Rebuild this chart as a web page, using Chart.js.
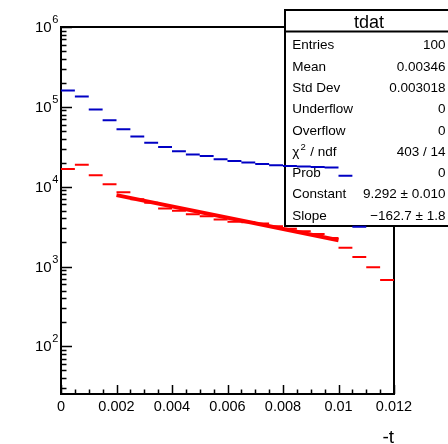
<!DOCTYPE html>
<html>
<head>
<meta charset="utf-8">
<script src="https://cdn.jsdelivr.net/npm/chart.js@4.4.1/dist/chart.umd.min.js"></script>
<style>
    html, body { margin: 0; padding: 0; background: #fff; }
</style>
</head>
<body>
<canvas id="tplot" width="448" height="444"></canvas>
<script>
/* =========================
   DATOS
========================= */
const binEdges = [0, 0.0005, 0.001, 0.0015, 0.002, 0.0025, 0.003, 0.0035, 0.004, 0.0045,
                  0.005, 0.0055, 0.006, 0.0065, 0.007, 0.0075, 0.008, 0.0085, 0.009, 0.0095,
                  0.01, 0.0105, 0.011, 0.0115, 0.012];
const redCounts = [16600, 18800, 13900, 10700, 8500, 6980, 6300, 5330, 4980, 4530,
                   4270, 3890, 3630, 3580, 3460, 3200, 2980, 2770, 2560, 2280,
                   1715, 1320, 982, 676];
const blueCounts = [160000, 134500, 92500, 67900, 52500, 42500, 35500, 31500, 27800, 25300,
                    24300, 22100, 21000, 20100, 19300, 18600, 18200, 17900, 17700, 17400,
                    13700, 3140, null, null];
const fitConstant = 9.292;
const fitSlope = -162.7;
const fitRange = [0.002, 0.010];
const xTicks = [0, 0.002, 0.004, 0.006, 0.008, 0.01, 0.012];
const xTickLabels = ["0", "0.002", "0.004", "0.006", "0.008", "0.01", "0.012"];
const yDecades = [2, 3, 4, 5, 6];
const statsTitle = "tdat";
const statsRows = [
    ["Entries", "100"],
    ["Mean", "0.00346"],
    ["Std Dev", "0.003018"],
    ["Underflow", "0"],
    ["Overflow", "0"],
    ["chi2", "403 / 14"],
    ["Prob", "0"],
    ["Constant", "9.292 \u00b1 0.010"],
    ["Slope", "\u2212162.7 \u00b1 1.8"]
];

const FONT = '"Liberation Sans", Arial, Helvetica, sans-serif';
const Y_MIN = 25.3, Y_MAX = 1e6;

// cada bin como un segmento horizontal suelto
function binDashes(counts) {
    const pts = [];
    counts.forEach((v, i) => {
        if (v == null) return;
        pts.push({ x: binEdges[i], y: v });
        pts.push({ x: binEdges[i + 1], y: v });
        pts.push({ x: binEdges[i + 1], y: null });
    });
    return pts;
}

const fitPoints = fitRange.map(x => ({ x: x, y: Math.exp(fitConstant + fitSlope * x) }));

/* =========================
   MARCO ESTILO ROOT
========================= */
const rootFrame = {
    id: "rootFrame",
    beforeDatasetsDraw(chart) {
        const { ctx, chartArea: a, scales } = chart;
        const xs = scales.x, ys = scales.y;
        ctx.save();
        ctx.strokeStyle = "#000";
        ctx.lineWidth = 2;
        ctx.strokeRect(a.left, a.top, a.right - a.left, a.bottom - a.top);

        ctx.lineWidth = 1.5;
        ctx.beginPath();
        // ticks eje y (log)
        for (let d = 1; d <= 6; d++) {
            for (let m = 1; m <= 9; m++) {
                const v = m * Math.pow(10, d);
                if (v < Y_MIN || v > Y_MAX) continue;
                const py = Math.round(ys.getPixelForValue(v)) + 0.5;
                const len = m === 1 ? 11 : 5.5;
                ctx.moveTo(a.left, py);
                ctx.lineTo(a.left + len, py);
            }
        }
        // ticks eje x
        for (let i = 0; i <= 24; i++) {
            const v = i * 0.0005;
            const px = Math.round(xs.getPixelForValue(v)) + 0.5;
            const len = i % 4 === 0 ? 9 : 4.5;
            ctx.moveTo(px, a.bottom);
            ctx.lineTo(px, a.bottom - len);
        }
        ctx.stroke();
        ctx.restore();
    },
    afterDatasetDraw(chart, args) {
        if (args.index !== 1) return;
        const ctx = chart.ctx;
        const left = 285, top = 10, bottom = 226, right = 470;
        ctx.save();
        ctx.fillStyle = "#fff";
        ctx.fillRect(left, top, right - left, bottom - top);
        ctx.strokeStyle = "#000";
        ctx.lineWidth = 2;
        ctx.strokeRect(left, top, right - left, bottom - top);
        ctx.beginPath();
        ctx.moveTo(left, 31.5);
        ctx.lineTo(right, 31.5);
        ctx.stroke();

        ctx.fillStyle = "#000";
        ctx.textBaseline = "alphabetic";
        ctx.font = "18px " + FONT;
        ctx.textAlign = "center";
        ctx.fillText(statsTitle, 369, 28);

        ctx.font = "13.5px " + FONT;
        statsRows.forEach((row, i) => {
            const by = 49.3 + i * 21.3;
            ctx.textAlign = "left";
            if (row[0] === "chi2") {
                ctx.fillText("\u03c7", 292.3, by);
                const w = ctx.measureText("\u03c7").width;
                ctx.font = "9.5px " + FONT;
                ctx.fillText("2", 292.3 + w + 1, by - 6);
                ctx.font = "13.5px " + FONT;
                ctx.fillText(" / ndf", 292.3 + w + 7, by);
            } else {
                ctx.fillText(row[0], 292.3, by);
            }
            ctx.textAlign = "right";
            ctx.fillText(row[1], 445.5, by);
        });
        ctx.restore();
    },
    afterDraw(chart) {
        const { ctx, chartArea: a, scales } = chart;
        ctx.save();
        ctx.fillStyle = "#000";
        ctx.textBaseline = "alphabetic";
        ctx.font = "14.5px " + FONT;
        ctx.textAlign = "center";
        xTicks.forEach((v, i) => {
            ctx.fillText(xTickLabels[i], scales.x.getPixelForValue(v), 410.5);
        });
        yDecades.forEach(d => {
            const py = scales.y.getPixelForValue(Math.pow(10, d));
            ctx.font = "15px " + FONT;
            ctx.textAlign = "right";
            ctx.fillText("10", 51.7, py + 5);
            ctx.font = "11px " + FONT;
            ctx.textAlign = "left";
            ctx.fillText(String(d), 52.3, py - 4);
        });
        ctx.font = "19px " + FONT;
        ctx.textAlign = "right";
        ctx.fillText("-t", a.right, 443);
        ctx.restore();
    }
};

/* =========================
   GRAFICO
========================= */
new Chart(document.getElementById("tplot"), {
    type: "line",
    data: {
        datasets: [
            {
                label: "blue",
                data: binDashes(blueCounts),
                borderColor: "#0000c4",
                borderWidth: 2,
                pointRadius: 0,
                spanGaps: false,
                order: 0
            },
            {
                label: "fit",
                data: fitPoints,
                borderColor: "#ff0000",
                borderWidth: 4,
                pointRadius: 0,
                order: 1
            },
            {
                label: "tdat",
                data: binDashes(redCounts),
                borderColor: "#ff0000",
                borderWidth: 2,
                pointRadius: 0,
                spanGaps: false,
                order: 2
            }
        ]
    },
    options: {
        responsive: false,
        animation: false,
        layout: { padding: { left: 61, top: 27, right: 54, bottom: 50 } },
        scales: {
            x: { type: "linear", min: 0, max: 0.012, display: false },
            y: { type: "logarithmic", min: Y_MIN, max: Y_MAX, display: false }
        },
        plugins: {
            legend: { display: false },
            tooltip: { enabled: false }
        }
    },
    plugins: [rootFrame]
});
</script>
</body>
</html>
